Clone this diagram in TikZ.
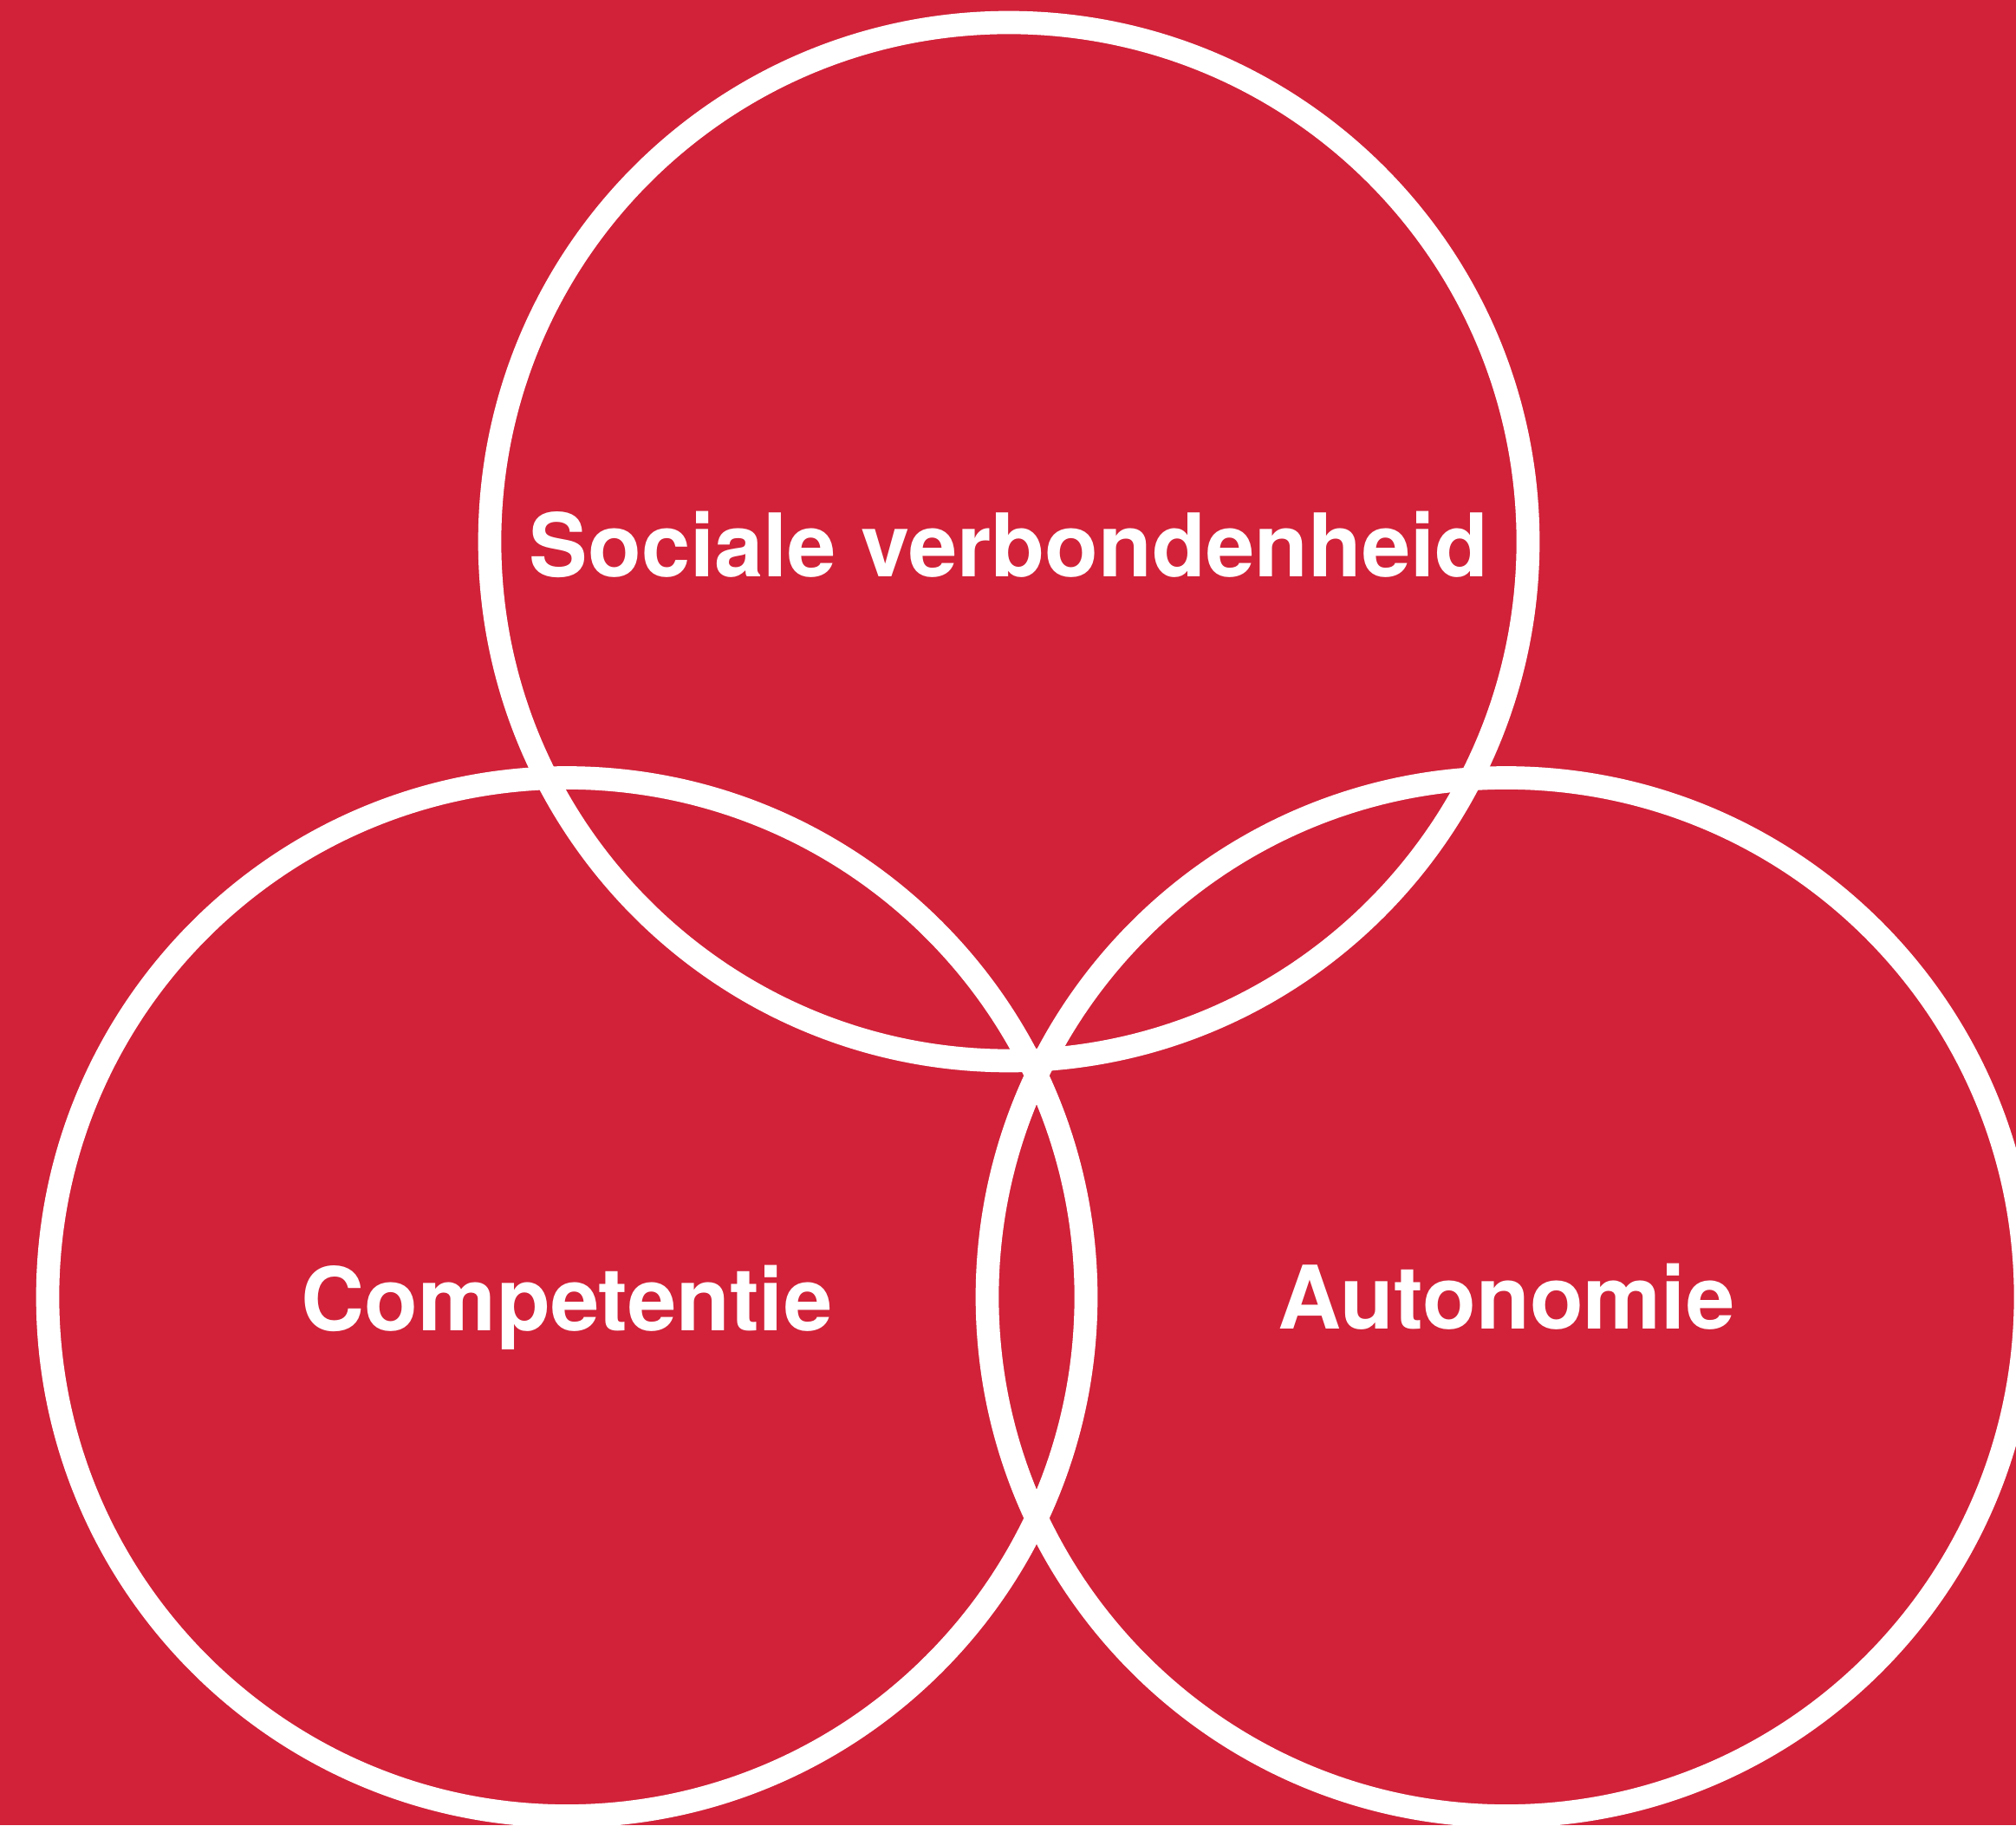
\documentclass[tikz,border=0pt]{standalone}
\usepackage{fontspec}
\setmainfont{TeX Gyre Heros}
\usepackage{tikz}

\definecolor{bgred}{RGB}{209,34,57}

\begin{document}
\begin{tikzpicture}[
    need/.style={draw=white, line width=0.267cm, circle, minimum size=11.98cm, inner sep=0pt},
    need_label/.style={draw=none, fill=none, text=white, anchor=base, font=\fontsize{28.8}{34}\selectfont\bfseries}
]
    \useasboundingbox (0,0) rectangle (23.26,21.06);
    \fill[bgred] (0,0) rectangle (23.26,21.06);

    \node[need] (social) at (11.64,14.81) [] {};
    \node[need] (competence) at (6.54,6.095) [] {};
    \node[need] (autonomy) at (17.38,6.095) [] {};

    \node[need_label] (social_label) at (social.center) [yshift=-0.41cm] {Sociale verbondenheid};
    \node[need_label] (competence_label) at (competence.center) [yshift=-0.39cm] {Competentie};
    \node[need_label] (autonomy_label) at (autonomy.center) [yshift=-0.37cm] {Autonomie};

\end{tikzpicture}
\end{document}
